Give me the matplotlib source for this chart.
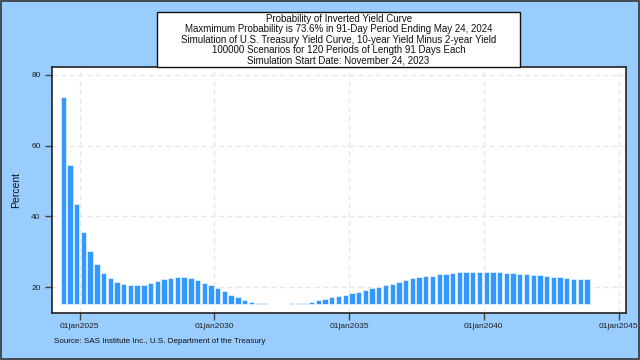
import matplotlib
matplotlib.use("Agg")
import matplotlib.pyplot as plt
import matplotlib.dates as mdates
from matplotlib.patches import Rectangle
import datetime as dt

plt.rcParams['font.family'] = ['Liberation Sans', 'DejaVu Sans']

# ---- data ----
start_date = dt.date(2023, 11, 24)
period_days = 91
period_numbers = list(range(2, 81))
probabilities = [
    73.6, 54.5, 43.5, 35.6, 30.2, 26.6, 24.0, 22.6, 21.5, 20.8,
    20.6, 20.5, 20.6, 21.1, 21.7, 22.3, 22.6, 22.8, 22.9, 22.6,
    22.1, 21.2, 20.5, 19.8, 18.8, 17.9, 17.1, 16.4, 15.8, 15.6,
    15.45, 15.35, 15.3, 15.3, 15.4, 15.45, 15.6, 15.9, 16.3, 16.7,
    17.2, 17.5, 17.9, 18.3, 18.7, 19.1, 19.7, 20.1, 20.5, 21.0,
    21.5, 22.1, 22.6, 22.9, 23.1, 23.3, 23.6, 23.8, 24.0, 24.2,
    24.3, 24.3, 24.3, 24.3, 24.2, 24.2, 24.1, 23.9, 23.7, 23.6,
    23.5, 23.4, 23.2, 23.0, 22.8, 22.6, 22.4, 22.3, 22.2,
]
base_value = 15.3
y_ticks = [20, 40, 60, 80]
x_tick_years = [2025, 2030, 2035, 2040, 2045]
title_lines = [
    "Probability of Inverted Yield Curve",
    "Maxmimum Probability is 73.6% in 91-Day Period Ending May 24, 2024",
    "Simulation of U.S. Treasury Yield Curve, 10-year Yield Minus 2-year Yield",
    "100000 Scenarios for 120 Periods of Length 91 Days Each",
    "Simulation Start Date: November 24, 2023",
]
source_note = "Source: SAS Institute Inc., U.S. Department of the Treasury"

# ---- figure ----
bg = '#99ccff'
bar_color = '#3399ff'
fig = plt.figure(figsize=(6.4, 3.6), dpi=100, facecolor=bg)
W, H = 640, 360

def fx(px):
    return px / W

def fy(py):
    return 1 - py / H

ax = fig.add_axes([fx(51.7), fy(312.7), fx(625.5) - fx(51.7), fy(67.3) - fy(312.7)])
ax.set_facecolor('white')

dates = [start_date + dt.timedelta(days=period_days * k) for k in period_numbers]
xnum = mdates.date2num(dates)
heights = [v - base_value for v in probabilities]
ax.bar(xnum, heights, bottom=base_value, width=period_days * 0.8,
       color=bar_color, edgecolor='white', linewidth=0.4, zorder=3)

ax.set_xlim(mdates.date2num(dt.date(2023, 12, 19)), mdates.date2num(dt.date(2045, 4, 5)))
ax.set_ylim(12.8, 82.1)

xt = mdates.date2num([dt.date(y, 1, 1) for y in x_tick_years])
ax.set_xticks(xt)
ax.set_xticklabels([f"01jan{y}" for y in x_tick_years], fontsize=6, color='#222222')
ax.set_yticks(y_ticks)
ax.set_yticklabels([str(t) for t in y_ticks], fontsize=6, color='#222222')
ax.tick_params(axis='both', length=5, width=1, color='#444444', pad=3)
ax.tick_params(axis='x', pad=2.5)
ax.grid(True, color='#e6e6e6', linestyle=(0, (4, 3)), linewidth=0.9, zorder=0)
for s in ax.spines.values():
    s.set_color('#222222')
    s.set_linewidth(1.2)

ax.set_ylabel("Percent", fontsize=7.5, color='#111111', labelpad=7)

# title box
box = Rectangle((fx(157.3), fy(66.6)), fx(520) - fx(157.3), fy(11.5) - fy(66.6),
                transform=fig.transFigure, facecolor='white', edgecolor='#111111',
                linewidth=1.0, zorder=5)
fig.patches.append(box)
fig.text(fx(338.6), fy(39.8), "\n".join(title_lines), ha='center', va='center',
         fontsize=7.0, linespacing=1.04, color='#111111', zorder=6)

fig.text(fx(54.3), fy(341.7), source_note, ha='left', va='center', fontsize=5.8,
         color='#111111')

# figure border
border = Rectangle((0.001, 0.002), 0.997, 0.995, transform=fig.transFigure,
                   facecolor='none', edgecolor='#333333', linewidth=1.2, zorder=10)
fig.patches.append(border)

fig.savefig("out.png", dpi=100, facecolor=bg)
